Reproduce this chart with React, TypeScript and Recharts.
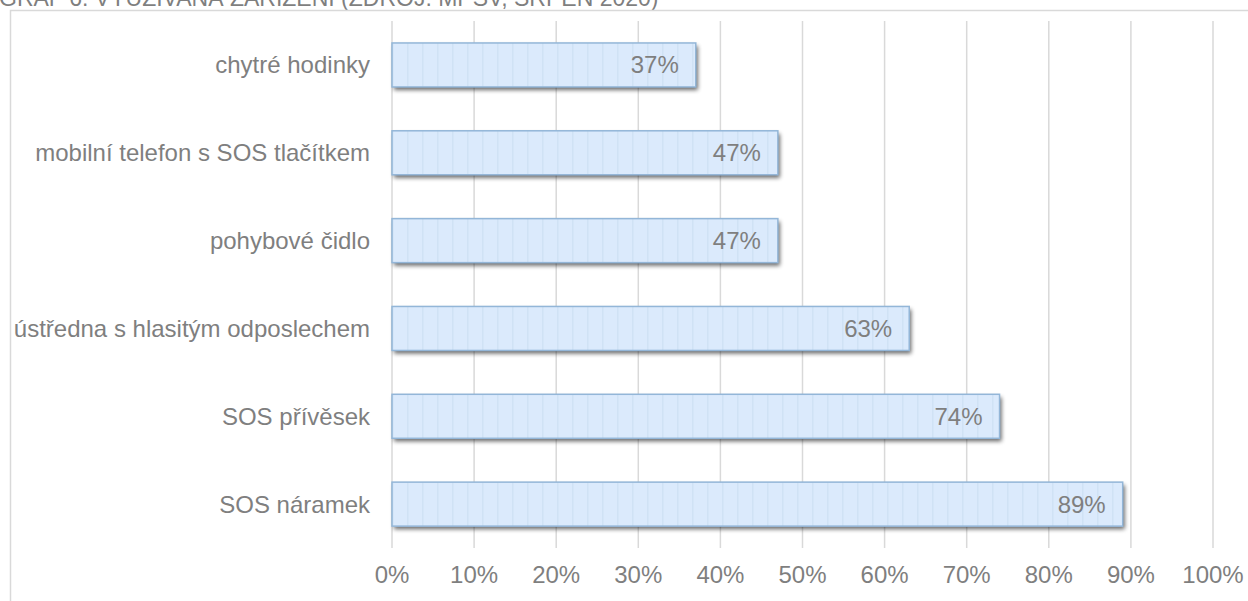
import React from 'react';
import { BarChart, Bar, XAxis, YAxis, CartesianGrid, LabelList } from 'recharts';

const categories = [
  'chytré hodinky',
  'mobilní telefon s SOS tlačítkem ',
  'pohybové čidlo',
  'ústředna s hlasitým odposlechem',
  'SOS přívěsek',
  'SOS náramek',
];
const shares = [37, 47, 47, 63, 74, 89];
const xTicks = [0, 10, 20, 30, 40, 50, 60, 70, 80, 90, 100];
const title = 'GRAF 6: VYUŽÍVANÁ ZAŘÍZENÍ (ZDROJ: MPSV, SRPEN 2020)';

const data = categories.map((name, i) => ({ name, value: shares[i] }));

const FONT = '"Liberation Sans", Arial, sans-serif';
const GREY = '#7f7f7f';

const BarShape = (props: any) => {
  const { x, y, width, height } = props;
  if (!width || !height) return null;
  return (
    <g>
      <rect x={x} y={y} width={width} height={height} fill="url(#barStripes)" filter="url(#barShadow)" />
      <rect x={x} y={y} width={width} height={height} fill="none" stroke="#93b6d8" strokeWidth={1.5} />
    </g>
  );
};

const App = () => {
  return (
    <div style={{ position: 'fixed', left: 0, top: 0, width: 1248, height: 601, background: '#fff', overflow: 'hidden' }}>
      <svg width={0} height={0} style={{ position: 'absolute' }}>
        <defs>
          <pattern id="barStripes" patternUnits="userSpaceOnUse" width={15} height={10} x={392}>
            <rect width={15} height={10} fill="#dbeafc" />
            <rect x={0} width={1.5} height={10} fill="#d0e2f5" />
          </pattern>
          <filter id="barShadow" x="-5%" y="-20%" width="115%" height="160%">
            <feGaussianBlur in="SourceAlpha" stdDeviation={2} />
            <feOffset dx={2} dy={3} result="off" />
            <feComponentTransfer>
              <feFuncA type="linear" slope={0.6} />
            </feComponentTransfer>
            <feMerge>
              <feMergeNode />
              <feMergeNode in="SourceGraphic" />
            </feMerge>
          </filter>
        </defs>
      </svg>
      <svg width={1248} height={601} style={{ position: 'absolute', left: 0, top: 0 }}>
        <text x={-1} y={6} fontFamily={FONT} fontSize={23} fill={GREY}>{title}</text>
        <rect x={10.5} y={10.5} width={1300} height={700} fill="none" stroke="#d9d9d9" strokeWidth={1.5} />
      </svg>
      <div style={{ position: 'absolute', left: 0, top: 0 }}>
        <BarChart
          width={1248}
          height={601}
          data={data}
          layout="vertical"
          margin={{ top: 21, right: 35, bottom: 13, left: 0 }}
          barCategoryGap="25%"
        >
          <CartesianGrid horizontal={false} stroke="#d9d9d9" strokeWidth={1.5} />
          <XAxis
            type="number"
            domain={[0, 100]}
            ticks={xTicks}
            interval={0}
            height={40}
            axisLine={false}
            tickLine={false}
            tickSize={0}
            tickMargin={18}
            tickFormatter={(v: number) => `${v}%`}
            tick={{ fill: GREY, fontSize: 24, fontFamily: FONT }}
          />
          <YAxis
            type="category"
            dataKey="name"
            width={392}
            axisLine={false}
            tickLine={false}
            tickSize={0}
            tickMargin={22}
            interval={0}
            tick={{ fill: GREY, fontSize: 24, fontFamily: FONT }}
          />
          <Bar dataKey="value" isAnimationActive={false} shape={BarShape}>
            <LabelList
              dataKey="value"
              position="insideRight"
              offset={17}
              formatter={(v: any) => `${v}%`}
              fill={GREY}
              fontSize={24}
              fontFamily={FONT}
            />
          </Bar>
        </BarChart>
      </div>
    </div>
  );
};

export default App;
